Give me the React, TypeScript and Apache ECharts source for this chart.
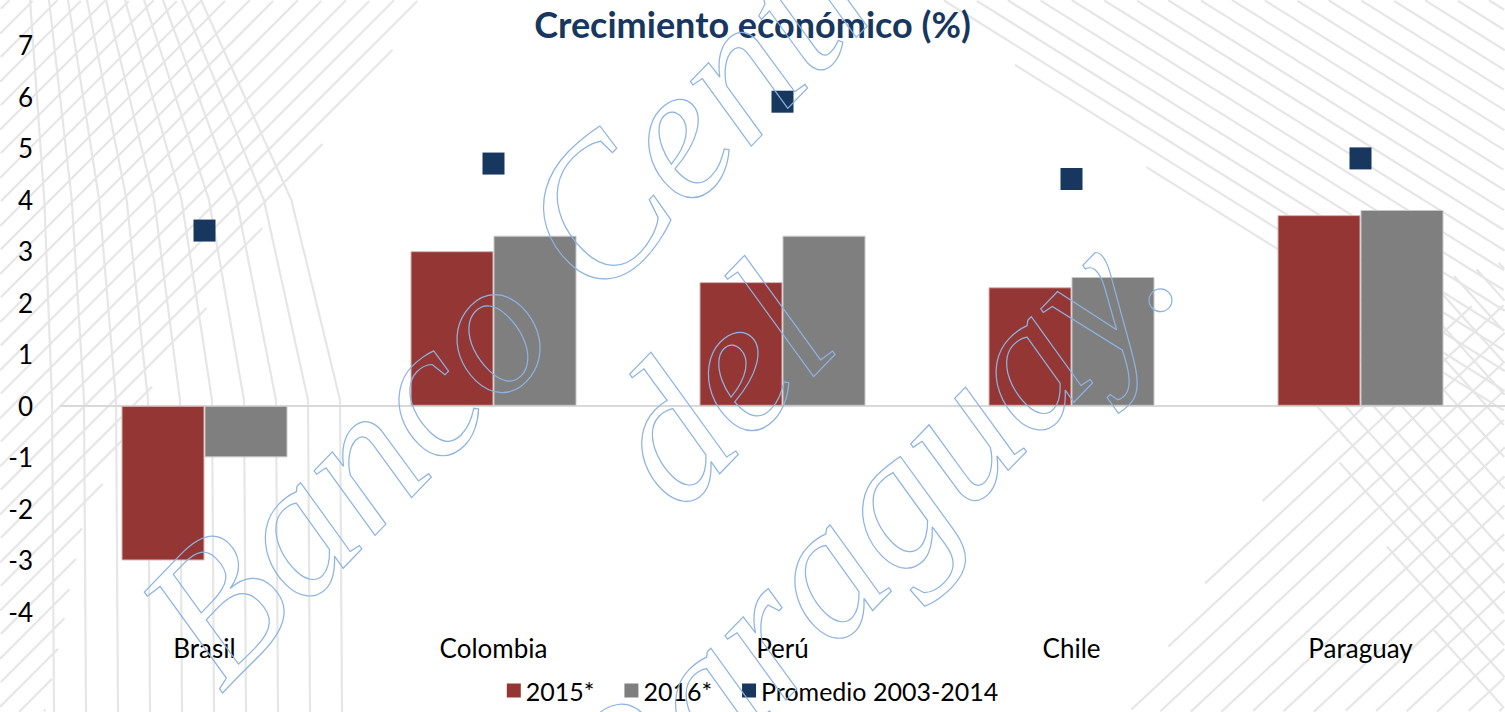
import React, { useEffect, useRef } from "react";
import * as echarts from "echarts";

const categories = ["Brasil", "Colombia", "Perú", "Chile", "Paraguay"];
const serie2015 = [-3.0, 3.0, 2.4, 2.3, 3.7];
const serie2016 = [-1.0, 3.3, 3.3, 2.5, 3.8];
const promedio = [3.4, 4.7, 5.9, 4.4, 4.8];
const seriesNames = ["2015*", "2016*", "Promedio 2003-2014"];
const titleText = "Crecimiento económico (%)";
const watermark = "Banco Central\ndel\nParaguay.";

const FONT = "Lato, 'Open Sans', sans-serif";
const W = 1505;
const H = 712;
const HATCH = "#e6e6e6";

type Pt = [number, number];

function inside(p: Pt, poly: Pt[]): boolean {
  let c = false;
  for (let i = 0, j = poly.length - 1; i < poly.length; j = i++) {
    const [xi, yi] = poly[i];
    const [xj, yj] = poly[j];
    if (yi > p[1] !== yj > p[1] && p[0] < ((xj - xi) * (p[1] - yi)) / (yj - yi) + xi) c = !c;
  }
  return c;
}

function seg(p: Pt, q: Pt) {
  return {
    type: "line",
    silent: true,
    z: -10,
    shape: { x1: p[0], y1: p[1], x2: q[0], y2: q[1] },
    style: { stroke: HATCH, lineWidth: 2.2 },
  };
}

// decorative background hatch, clipped to a region by sampling
function hatch(poly: Pt[], angleDeg: number, spacing: number): any[] {
  const a = (angleDeg * Math.PI) / 180;
  const d: Pt = [Math.cos(a), -Math.sin(a)];
  const n: Pt = [-d[1], d[0]];
  const out: any[] = [];
  const cx = W / 2;
  const cy = H / 2;
  const R = 1100;
  for (let off = -R; off <= R; off += spacing) {
    const bx = cx + n[0] * off;
    const by = cy + n[1] * off;
    let start: Pt | null = null;
    let last: Pt | null = null;
    for (let t = -R; t <= R; t += 2) {
      const p: Pt = [bx + d[0] * t, by + d[1] * t];
      const ok = p[0] >= 0 && p[0] <= W && p[1] >= 0 && p[1] <= H && inside(p, poly);
      if (ok) {
        if (!start) start = p;
        last = p;
      } else if (start && last) {
        out.push(seg(start, last));
        start = null;
        last = null;
      }
    }
    if (start && last) out.push(seg(start, last));
  }
  return out;
}

function fanLines(): any[] {
  const out: any[] = [];
  for (let i = 0; i < 10; i++) {
    const top = 30 + i * 19;
    const low = 52 + i * 32;
    const mid = top + 0.65 * (low - top);
    out.push({
      type: "polyline",
      silent: true,
      z: -10,
      shape: { points: [[top, 0], [mid, 200], [low, 400], [low + 2, H]] },
      style: { stroke: HATCH, lineWidth: 2.2, fill: null },
    });
  }
  return out;
}

const regionA: Pt[] = [[0, 0], [430, 0], [340, 120], [240, 260], [150, 390], [85, 520], [45, H], [0, H]];
const regionC: Pt[] = [[930, 0], [W, 0], [W, 430], [1380, 330], [1250, 250], [1100, 130]];
const regionD: Pt[] = [[1130, H], [W, H], [W, 290], [1420, 330], [1330, 420], [1230, 540]];
const regionE: Pt[] = [[1270, 340], [1400, 290], [W, 260], [W, H], [1480, H]];

export default function App() {
  const ref = useRef<HTMLDivElement>(null);
  useEffect(() => {
    if (!ref.current) return;
    const chart = echarts.init(ref.current, null, { renderer: "svg" });
    const background = [
      ...hatch(regionA, 45, 17),
      ...fanLines(),
      ...hatch(regionC, -32, 17),
      ...hatch(regionD, 43, 21),
      ...hatch(regionE, -48, 21),
    ];
    chart.setOption({
      animation: false,
      backgroundColor: "#ffffff",
      title: {
        text: titleText,
        left: "center",
        top: 1,
        textStyle: { fontFamily: FONT, fontWeight: "bold", fontSize: 36, color: "#17375e" },
      },
      legend: {
        bottom: 4,
        left: "center",
        itemWidth: 14,
        itemHeight: 14,
        itemGap: 30,
        textStyle: { fontFamily: FONT, fontSize: 25, color: "#000" },
        itemStyle: { borderWidth: 0 },
        data: [
          { name: seriesNames[0], icon: "rect" },
          { name: seriesNames[1], icon: "rect" },
          { name: seriesNames[2], icon: "rect" },
        ],
      },
      grid: { left: 60, top: 45, width: 1450, height: 567, containLabel: false },
      xAxis: {
        type: "category",
        data: categories,
        axisLine: { show: false, onZero: false },
        axisTick: { show: false },
        axisLabel: { fontFamily: FONT, fontSize: 26, color: "#000", margin: 23 },
      },
      yAxis: {
        type: "value",
        min: -4,
        max: 7,
        interval: 1,
        splitLine: { show: false },
        axisLine: { show: false },
        axisTick: { show: false },
        axisLabel: { fontFamily: FONT, fontSize: 26, color: "#000", margin: 27 },
      },
      graphic: [
        ...background,
        {
          type: "text",
          x: 715,
          y: 385,
          rotation: (46 * Math.PI) / 180,
          silent: true,
          z: 100,
          style: {
            text: watermark,
            align: "center",
            verticalAlign: "middle",
            font: "italic 193px 'Liberation Serif', serif",
            lineHeight: 205,
            fill: "rgba(0,0,0,0)",
            stroke: "#8db3e2",
            lineWidth: 1.2,
          },
        },
      ],
      series: [
        {
          name: seriesNames[0],
          type: "bar",
          data: serie2015,
          barWidth: 83,
          barGap: "0%",
          itemStyle: { color: "#943634", borderColor: "#d8b4b4", borderWidth: 1 },
          markLine: {
            silent: true,
            symbol: "none",
            label: { show: false },
            lineStyle: { color: "#d9d9d9", width: 2, type: "solid" },
            data: [{ yAxis: 0 }],
            z: 1,
          },
        },
        {
          name: seriesNames[1],
          type: "bar",
          data: serie2016,
          barWidth: 83,
          barGap: "0%",
          itemStyle: { color: "#7f7f7f", borderColor: "#c8c8c8", borderWidth: 1 },
        },
        {
          name: seriesNames[2],
          type: "scatter",
          data: promedio,
          symbol: "rect",
          symbolSize: 22,
          itemStyle: { color: "#17375e", opacity: 1 },
        },
      ],
    });
    return () => chart.dispose();
  }, []);
  return (
    <div
      ref={ref}
      style={{ position: "absolute", left: 0, top: 0, width: W, height: H }}
    />
  );
}
